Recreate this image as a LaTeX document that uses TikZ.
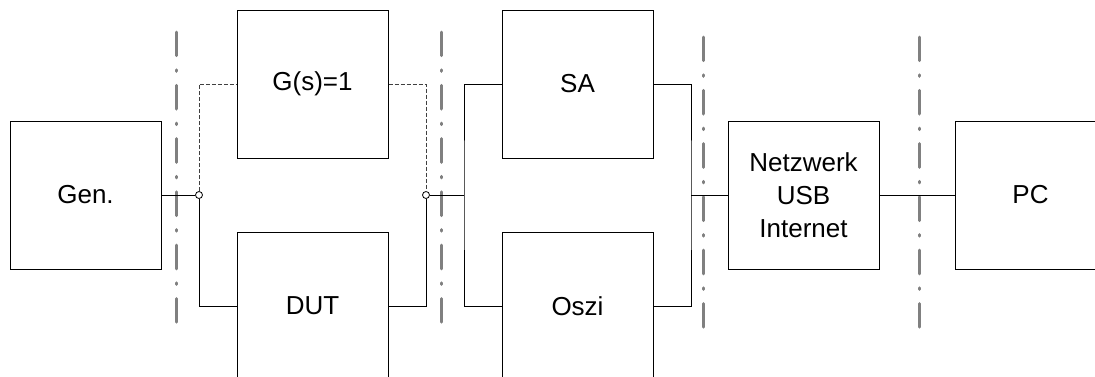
\documentclass[tikz,border=0pt]{standalone}
\usepackage{fontspec}
\setmainfont{Liberation Sans}
\begin{document}
\begin{tikzpicture}[x=1pt,y=-1pt,
  blk/.style={draw, line width=1pt, minimum width=151pt, minimum height=148pt, inner sep=0pt, align=center, font=\fontsize{26}{33}\selectfont},
  wire/.style={line width=1pt},
  dwire/.style={line width=1pt, draw=black!75, dash pattern=on 4pt off 2pt},
  sepline/.style={line width=3pt, draw=black!50, line cap=round, dash pattern=on 23.7pt off 14.05pt on 1.5pt off 14.05pt},
  junc/.style={circle, draw, fill=white, inner sep=0pt, minimum size=7pt, line width=0.8pt}]
\useasboundingbox (0,0) rectangle (1095,376);
% separators
\draw[sepline] (176,32) -- (176,327);
\draw[sepline] (441,32) -- (441,327);
\draw[sepline] (703,37) -- (703,333);
\draw[sepline] (919,37) -- (919,333);
% blocks
\node[blk] (gen) at (85.5,195) {Gen.};
\node[blk] (g) at (312.5,84) {G(s)=1};
\node[blk] (dut) at (312.5,306) {DUT};
\node[blk] (sa) at (577.5,84) {SA};
\node[blk] (oszi) at (577.5,306) {Oszi};
\node[blk] (net) at (803.5,195) {Netzwerk\\USB\\Internet};
\node[blk] (pc) at (1030.5,195) {PC};
% junctions
\node[junc] (j1) at (199,195) {};
\node[junc] (j2) at (426,195) {};
\coordinate (b1) at (464,195);
\coordinate (b2) at (691,195);
% connectors
\draw[wire] (gen.east) -- (j1);
\draw[dwire] (j1) |- (g.west);
\draw[wire] (j1) |- (dut.west);
\draw[dwire] (g.east) -| (j2);
\draw[wire] (dut.east) -| (j2);
\draw[wire] (j2) -- (b1);
\draw[wire] (sa.west) -| (b1) |- (oszi.west);
\draw[wire] (sa.east) -| (b2) |- (oszi.east);
\draw[wire] (b2) -- (net.west);
\draw[wire] (net.east) -- (pc.west);
\end{tikzpicture}
\end{document}
